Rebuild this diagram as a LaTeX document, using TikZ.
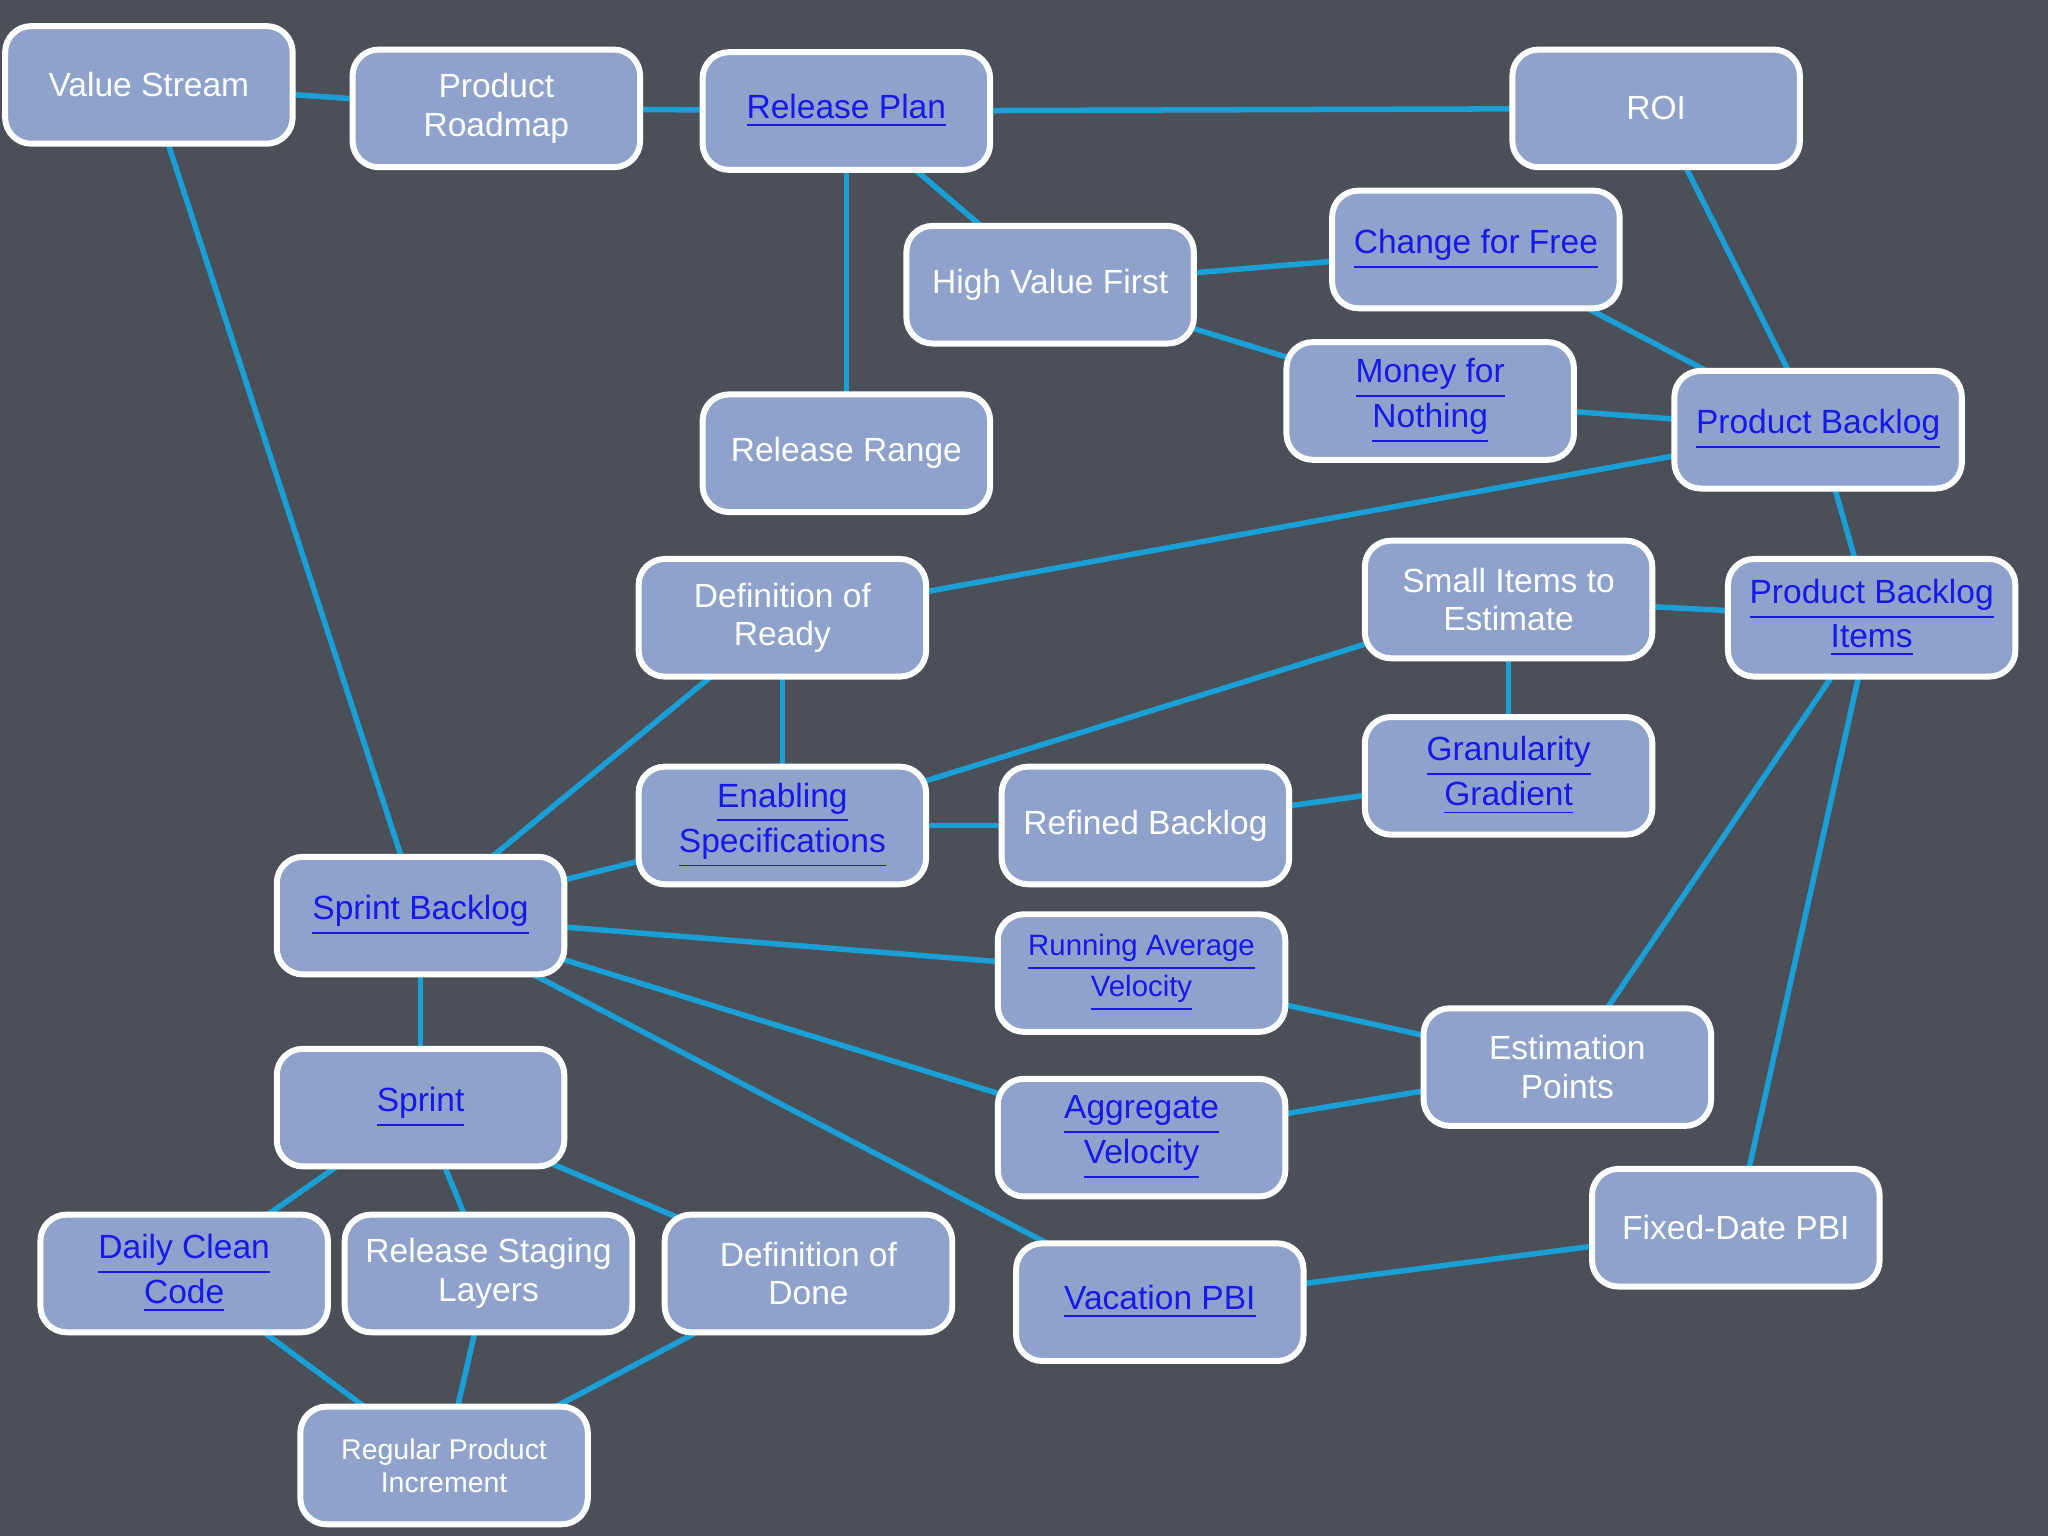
\documentclass[tikz,border=0pt]{standalone}
\usepackage{fontspec}
\setmainfont{Liberation Sans}
\usetikzlibrary{backgrounds}
\definecolor{bgc}{HTML}{4A4F58}
\definecolor{boxc}{HTML}{8EA2CB}
\definecolor{edgec}{HTML}{1A9FD6}
\definecolor{linkc}{HTML}{1818E8}
\newcommand{\lk}[1]{\textcolor{linkc}{\underline{#1}}}
\begin{document}
\begin{tikzpicture}[x=0.01cm,y=-0.01cm,
  box/.style={draw=white,line width=1.3pt,fill=boxc,rounded corners=0.2cm,minimum width=2.2cm,minimum height=0.9cm,align=center,text=white,font=\fontsize{7.3}{8.4}\selectfont,inner sep=1pt},
  sm/.style={font=\fontsize{6.2}{7.2}\selectfont},
  ed/.style={draw=edgec,line width=1.2pt}]
\node[box] (vs) at (114,65) {Value Stream};
\node[box] (pr) at (380,83) {Product\\Roadmap};
\node[box] (rp) at (648,85) {\lk{Release Plan}};
\node[box] (roi) at (1268,83) {ROI};
\node[box] (cff) at (1130,191) {\lk{Change for Free}};
\node[box] (hvf) at (804,218) {High Value First};
\node[box] (mfn) at (1095,307) {\lk{Money for}\\\lk{Nothing}};
\node[box] (pb) at (1392,329) {\lk{Product Backlog}};
\node[box] (rr) at (648,347) {Release Range};
\node[box] (dor) at (599,473) {Definition of\\Ready};
\node[box] (sie) at (1155,459) {Small Items to\\Estimate};
\node[box] (pbi) at (1433,473) {\lk{Product Backlog}\\\lk{Items}};
\node[box] (gg) at (1155,594) {\lk{Granularity}\\\lk{Gradient}};
\node[box] (es) at (599,632) {\lk{Enabling}\\\lk{Specifications}};
\node[box] (rb) at (877,632) {Refined Backlog};
\node[box] (sb) at (322,701) {\lk{Sprint Backlog}};
\node[box,font=\fontsize{6.4}{7.6}\selectfont] (rav) at (874,745) {\lk{Running Average}\\\lk{Velocity}};
\node[box] (ep) at (1200,817) {Estimation\\Points};
\node[box] (sp) at (322,848) {\lk{Sprint}};
\node[box] (av) at (874,871) {\lk{Aggregate}\\\lk{Velocity}};
\node[box] (fd) at (1329,940) {Fixed-Date PBI};
\node[box] (dcc) at (141,975) {\lk{Daily Clean}\\\lk{Code}};
\node[box] (rsl) at (374,975) {Release Staging\\Layers};
\node[box] (dod) at (619,975) {Definition of\\Done};
\node[box] (vp) at (888,997) {\lk{Vacation PBI}};
\node[box,sm] (rpi) at (340,1122) {Regular Product\\Increment};
\begin{scope}[on background layer]
\fill[bgc] (0,0) rectangle (1568,1176);
\foreach \a/\b in {vs/pr,pr/rp,rp/roi,rp/hvf,rp/rr,hvf/cff,hvf/mfn,cff/pb,mfn/pb,roi/pb,pb/dor,pb/pbi,sie/pbi,sie/gg,sie/es,dor/es,dor/sb,es/sb,es/rb,rb/gg,vs/sb,sb/sp,sb/rav,sb/av,sb/vp,rav/ep,av/ep,ep/pbi,fd/pbi,vp/fd,sp/dcc,sp/rsl,sp/dod,dcc/rpi,rsl/rpi,dod/rpi}
  \draw[ed] (\a.center) -- (\b.center);
\end{scope}
\end{tikzpicture}
\end{document}
